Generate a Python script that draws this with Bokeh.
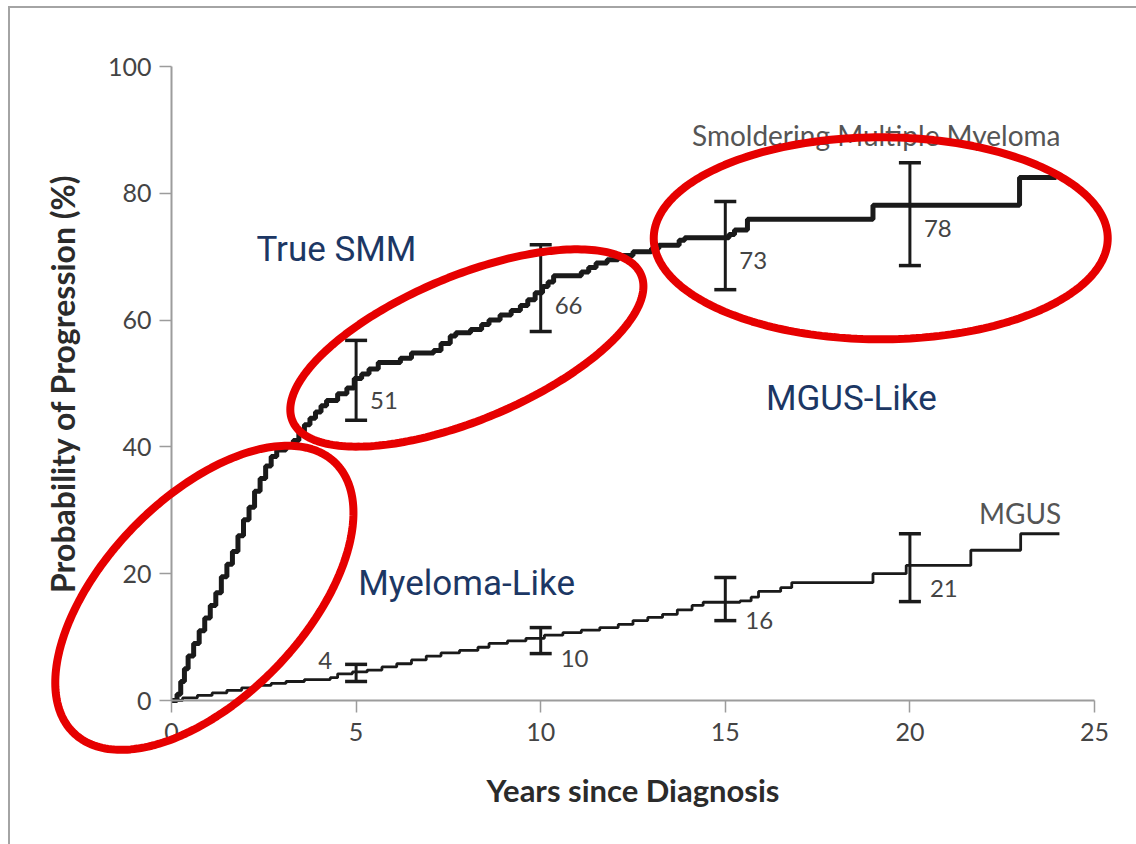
import numpy as np
from bokeh.plotting import figure
from bokeh.models import (Range1d, FixedTicker, PolyAnnotation, Label, Whisker,
                          TeeHead, ColumnDataSource)
from bokeh.core.properties import value
from bokeh.embed import file_html
from bokeh.resources import INLINE

# ---------------- data ----------------
smm_years = [0, 0.15, 0.25, 0.35, 0.45, 0.6, 0.75, 0.9, 1.05, 1.2, 1.35, 1.5,
             1.65, 1.8, 1.95, 2.1, 2.25, 2.4, 2.55, 2.7, 2.85, 3.1, 3.3, 3.45,
             3.6, 3.75, 3.9, 4.05, 4.2, 4.5, 4.75, 4.95, 5.15, 5.35, 5.6, 6.2,
             6.5, 7.1, 7.3, 7.55, 7.7, 8.1, 8.4, 8.6, 8.9, 9.2, 9.45, 9.65,
             9.85, 10.05, 10.2, 10.35, 11.1, 11.3, 11.5, 11.8, 12.1, 12.5,
             13.0, 13.2, 13.75, 13.9, 15.1, 15.25, 15.6, 19.0, 22.97, 23.97]
smm_prob = [0, 1, 3, 5, 7, 9, 11, 13, 15, 17, 19.5, 21.5,
            23.5, 26, 28.5, 30.5, 33, 35, 37, 38.5, 39.5, 40.3, 41, 42.3,
            43.5, 44.5, 45.5, 46.5, 47.3, 48.4, 49.3, 50.8, 51.5, 52.3, 53.3, 54,
            54.8, 55.2, 56.3, 57.5, 58, 58.5, 59.3, 60, 60.8, 61.5, 62.3, 63.2,
            64.3, 65.3, 66, 67, 67.6, 68.3, 69, 69.5, 70.2, 70.8,
            71.3, 71.8, 72.6, 73.0, 73.5, 74.2, 75.9, 78.1, 82.5, 82.5]

mgus_years = [0, 0.3, 0.7, 1.1, 1.5, 1.9, 2.3, 2.7, 3.1, 3.6, 4.3, 4.5, 4.9,
              5.3, 5.7, 6.1, 6.5, 6.9, 7.3, 7.8, 8.3, 8.6, 9.1, 9.6, 10.1,
              10.6, 11.1, 11.6, 12.1, 12.5, 12.9, 13.3, 13.7, 14.1, 14.4,
              15.4, 15.7, 15.9, 16.5, 16.8, 19.0, 19.9, 21.65, 23.0, 24.05]
mgus_prob = [0, 0.4, 0.8, 1.2, 1.6, 2.0, 2.4, 2.7, 3.0, 3.3, 3.6, 4.2, 4.5,
             4.8, 5.3, 5.8, 6.4, 7.0, 7.5, 7.9, 8.4, 9.0, 9.4, 9.8, 10.3,
             10.7, 11.1, 11.5, 12.0, 12.6, 13.1, 13.6, 14.3, 15.0, 15.5,
             15.7, 16.3, 17.2, 17.8, 18.6, 20.0, 21.3, 23.7, 26.3, 26.3]

bar_years = [5, 10, 15, 20]
smm_est = [51, 66, 73, 78]
smm_lo = [44.2, 58.2, 64.8, 68.6]
smm_hi = [56.8, 71.9, 78.7, 84.8]
mgus_est = [4, 10, 16, 21]
mgus_lo = [3.0, 7.4, 12.6, 15.6]
mgus_hi = [5.7, 11.5, 19.4, 26.3]

x_ticks = [0, 5, 10, 15, 20, 25]
y_ticks = [0, 20, 40, 60, 80, 100]

# ---------------- layout ----------------
W, H = 1136, 844
LEFT, RIGHT, TOP, BOTTOM = 171, 42, 66, 144   # px around the axes box
XS = (W - LEFT - RIGHT) / 25.0                 # px per year
YS = (H - TOP - BOTTOM) / 100.0                # px per percent

# frame covers the whole canvas so the red rings can cross the axes
p = figure(width=W, height=H, output_backend="svg", toolbar_location=None,
           x_range=Range1d(-LEFT / XS, 25 + RIGHT / XS),
           y_range=Range1d(-BOTTOM / YS, 100 + TOP / YS),
           min_border=0, min_border_left=0, min_border_right=0,
           min_border_top=0, min_border_bottom=0,
           border_fill_color=None, background_fill_color=None,
           outline_line_color=None)
p.styles = {"background":
            "linear-gradient(#a4a4a4,#a4a4a4) 8px 6px / 2px 100% no-repeat, "
            "linear-gradient(#a4a4a4,#a4a4a4) 8px 6px / 100% 2px no-repeat, #ffffff"}
p.xgrid.visible = False
p.ygrid.visible = False

p.xaxis.fixed_location = 0
p.yaxis.fixed_location = 0
p.xaxis.bounds = (0, 25)
p.yaxis.bounds = (0, 100)
p.xaxis.ticker = FixedTicker(ticks=x_ticks)
p.yaxis.ticker = FixedTicker(ticks=y_ticks)
for ax in (p.xaxis[0], p.yaxis[0]):
    ax.axis_line_color = "#9c9c9c"
    ax.axis_line_width = 2
    ax.major_tick_line_color = "#9c9c9c"
    ax.major_tick_line_width = 1.5
    ax.major_tick_out = 12
    ax.major_tick_in = 0
    ax.minor_tick_line_color = None
    ax.major_label_text_font = "Lato"
    ax.major_label_text_font_size = "25px"
    ax.major_label_text_color = "#444444"
    ax.axis_label_text_font = "Lato"
    ax.axis_label_text_font_style = "bold"
    ax.axis_label_text_color = "#2b2b2b"
p.xaxis.axis_label_text_font_size = "31px"
p.yaxis.axis_label_text_font_size = "32px"
p.xaxis.major_label_standoff = 10
p.yaxis.major_label_standoff = 8
p.xaxis.axis_label = "Years since Diagnosis"
p.yaxis.axis_label = "Probability of Progression (%)"
p.xaxis.axis_label_standoff = 27
p.yaxis.axis_label_standoff = 23

# ---------------- curves ----------------
p.step(smm_years, smm_prob, mode="after", line_width=5, line_color="#1a1a1a")
p.step(mgus_years, mgus_prob, mode="after", line_width=2.8, line_color="#1a1a1a")

# error bars
for lo, hi in ((smm_lo, smm_hi), (mgus_lo, mgus_hi)):
    src = ColumnDataSource(dict(x=bar_years, lo=lo, hi=hi))
    w = Whisker(source=src, base="x", lower="lo", upper="hi", dimension="height",
                line_color="#1a1a1a", line_width=3,
                lower_head=TeeHead(size=22, line_color="#1a1a1a", line_width=3.5),
                upper_head=TeeHead(size=22, line_color="#1a1a1a", line_width=3.5))
    p.add_layout(w)

# value labels
lab_font = value("Lato")
p.text(x=bar_years, y=smm_est, text=[str(v) for v in smm_est],
       x_offset=14, y_offset=23, text_align="left", text_baseline="middle",
       text_font=lab_font, text_font_size="24px", text_color="#444444")
p.text(x=bar_years[1:], y=mgus_est[1:], text=[str(v) for v in mgus_est[1:]],
       x_offset=20, y_offset=21, text_align="left", text_baseline="middle",
       text_font=lab_font, text_font_size="24px", text_color="#444444")
p.text(x=bar_years[:1], y=mgus_est[:1], text=[str(v) for v in mgus_est[:1]],
       x_offset=-24, y_offset=-15, text_align="right", text_baseline="middle",
       text_font=lab_font, text_font_size="24px", text_color="#444444")

# series names
p.add_layout(Label(x=24.08, y=89.2, text="Smoldering Multiple Myeloma",
                   text_align="right", text_baseline="alphabetic",
                   text_font="Lato", text_font_size="28px", text_color="#555555"))
p.add_layout(Label(x=24.1, y=29.5, text="MGUS",
                   text_align="right", text_baseline="alphabetic",
                   text_font="Lato", text_font_size="28px", text_color="#555555"))

# added annotations (blue)
BLUE = "#1c3764"
for x, y, t in ((2.3, 71.1, "True SMM"), (5.06, 18.5, "Myeloma-Like"),
                (16.1, 47.6, "MGUS-Like")):
    p.add_layout(Label(x=x, y=y, text=t, text_align="left",
                       text_baseline="alphabetic", text_font="Roboto",
                       text_font_size="35px", text_color=BLUE))

# red rings: centre (data), semi-axes (px), tilt (deg)
ellipses = [(0.89, 16.2, 188, 100, 46.0),
            (8.0, 55.6, 189, 72, 22.7),
            (19.21, 72.9, 227, 101, 0.0)]
phi = np.linspace(0, 2 * np.pi, 241)
for cx, cy, a, b, ang in ellipses:
    t = np.radians(ang)
    dx = a * np.cos(phi) * np.cos(t) - b * np.sin(phi) * np.sin(t)
    dy = a * np.cos(phi) * np.sin(t) + b * np.sin(phi) * np.cos(t)
    p.add_layout(PolyAnnotation(xs=list(cx + dx / XS), ys=list(cy + dy / YS),
                                line_color="#e60000", line_alpha=1.0,
                                line_width=8, fill_color=None, fill_alpha=0))

open("out.html", "w").write(file_html(p, INLINE))
